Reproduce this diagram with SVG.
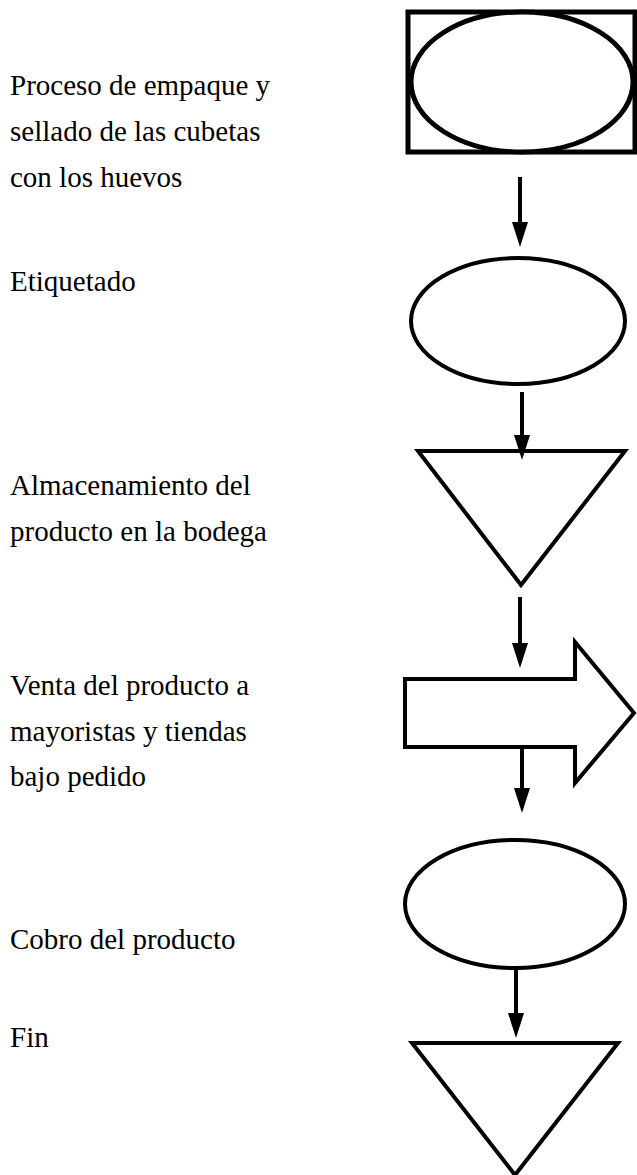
<svg xmlns="http://www.w3.org/2000/svg" width="637" height="1175" viewBox="0 0 637 1175">
<style>
.shape{fill:#ffffff;stroke:#000000;stroke-width:4;stroke-linejoin:miter}
.thick{stroke-width:5}
.lbl{font-family:"Liberation Serif","Times New Roman",serif;font-size:29px;fill:#000000}
.conn{stroke:#000000;stroke-width:4;fill:none}
</style>
<defs>
<marker id="ah" viewBox="0 0 25 16" refX="0" refY="8" markerWidth="25" markerHeight="16" markerUnits="userSpaceOnUse" orient="auto">
<path d="M0,0 L25,8 L0,16 Z" fill="#000000"/>
</marker>
</defs>
<rect width="637" height="1175" fill="#ffffff"/>
<g id="labels">
<text class="lbl" x="10" y="95">Proceso de empaque y</text>
<text class="lbl" x="10" y="141">sellado de las cubetas</text>
<text class="lbl" x="10" y="187">con los huevos</text>
<text class="lbl" x="10" y="291">Etiquetado</text>
<text class="lbl" x="10" y="495">Almacenamiento del</text>
<text class="lbl" x="10" y="541">producto en la bodega</text>
<text class="lbl" x="10" y="695">Venta del producto a</text>
<text class="lbl" x="10" y="741">mayoristas y tiendas</text>
<text class="lbl" x="10" y="786">bajo pedido</text>
<text class="lbl" x="10" y="949">Cobro del producto</text>
<text class="lbl" x="10" y="1047">Fin</text>
</g>
<g id="node-empaque">
<rect class="shape thick" x="408" y="12" width="227" height="140"/>
<ellipse class="shape thick" cx="522" cy="82" rx="111" ry="70"/>
</g>
<g id="node-etiquetado">
<ellipse class="shape" cx="518" cy="321" rx="107" ry="63"/>
</g>
<g id="node-almacenamiento">
<polygon class="shape" points="418,451 625,451 521,585"/>
</g>
<g id="node-venta">
<polygon class="shape" points="405,679 575,679 575,642 634,713 575,783 575,747 405,747"/>
</g>
<g id="node-cobro">
<ellipse class="shape" cx="515" cy="904" rx="110" ry="64"/>
</g>
<g id="node-fin">
<polygon class="shape" points="412,1043 618,1043 515,1175"/>
</g>
<g id="connectors">
<line class="conn" x1="520" y1="177" x2="520" y2="222" marker-end="url(#ah)"/>
<line class="conn" x1="522" y1="392" x2="522" y2="435" marker-end="url(#ah)"/>
<line class="conn" x1="520" y1="597" x2="520" y2="643" marker-end="url(#ah)"/>
<line class="conn" x1="522" y1="747" x2="522" y2="788" marker-end="url(#ah)"/>
<line class="conn" x1="516" y1="968" x2="516" y2="1013" marker-end="url(#ah)"/>
</g>
</svg>
